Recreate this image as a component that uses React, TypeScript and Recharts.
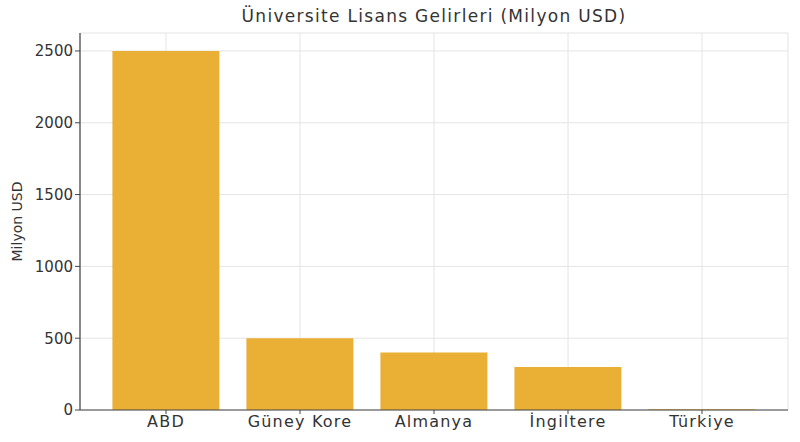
import React from "react";
import { BarChart, Bar, XAxis, YAxis, CartesianGrid } from "recharts";

const countries = ["ABD", "Güney Kore", "Almanya", "İngiltere", "Türkiye"];
const revenues = [2500, 500, 400, 300, 5];
const yTicks = [0, 500, 1000, 1500, 2000, 2500];

const data = countries.map((name, i) => ({ name, value: revenues[i] }));

const FONT = "'DejaVu Sans', sans-serif";
const TEXT = "#333333";

function YLabel(props: any) {
  const vb = props.viewBox;
  const cy = vb.y + vb.height / 2;
  return (
    <text
      x={17}
      y={cy}
      transform={`rotate(-90, 17, ${cy})`}
      textAnchor="middle"
      dominantBaseline="central"
      fill={TEXT}
      fontSize={14}
      fontFamily={FONT}
    >
      Milyon USD
    </text>
  );
}

export default function App() {
  return (
    <div style={{ position: "absolute", left: 0, top: 0, width: 800, height: 442, background: "#fff" }}>
      <div
        style={{
          position: "absolute",
          left: 80,
          width: 708,
          top: 6,
          textAlign: "center",
          fontFamily: FONT,
          fontSize: 17,
          letterSpacing: 1.3,
          color: TEXT,
        }}
      >
        Üniversite Lisans Gelirleri (Milyon USD)
      </div>
      <BarChart
        width={800}
        height={442}
        data={data}
        margin={{ top: 33, right: 12, left: 0, bottom: 0 }}
        barCategoryGap="10%"
      >
        <CartesianGrid stroke="#e4e4e4" />
        <XAxis
          dataKey="name"
          height={32}
          padding={{ left: 19, right: 19 }}
          tick={{ fill: TEXT, fontSize: 16, fontFamily: FONT, letterSpacing: 1.2 }}
          tickSize={4}
          tickLine={{ stroke: "#444" }}
          axisLine={{ stroke: "#444", strokeWidth: 1.2 }}
          interval={0}
        />
        <YAxis
          width={80}
          domain={[0, 2625]}
          ticks={yTicks}
          allowDataOverflow
          tick={{ fill: TEXT, fontSize: 15, fontFamily: FONT }}
          tickSize={5}
          tickLine={{ stroke: "#444" }}
          axisLine={{ stroke: "#444", strokeWidth: 1.2 }}
          label={<YLabel />}
        />
        <Bar dataKey="value" fill="#EAB035" isAnimationActive={false} />
      </BarChart>
    </div>
  );
}
